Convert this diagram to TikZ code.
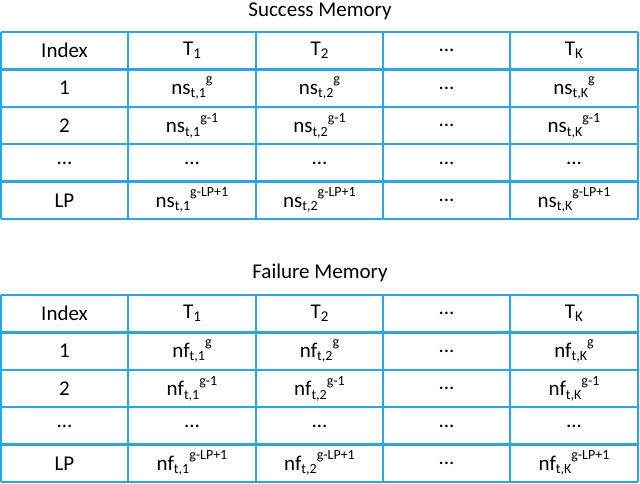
\documentclass[tikz,border=0pt]{standalone}
\usepackage{fontspec}
\setmainfont{Carlito}
\definecolor{gridblue}{HTML}{2AA7E0}
\newcommand{\mcell}[3]{#1\raisebox{-0.35ex}{\fontsize{14}{14}\selectfont #2}\raisebox{1.05ex}{\fontsize{14}{14}\selectfont #3}}
\newcommand{\tsub}[2]{#1\raisebox{-0.3ex}{\fontsize{15}{15}\selectfont #2}}
\begin{document}
\begin{tikzpicture}[x=1pt,y=-1pt,
  cell/.style={font=\fontsize{21}{21}\selectfont, inner sep=0pt, anchor=center},
  title/.style={font=\fontsize{21}{21}\selectfont, inner sep=0pt},
  grid/.style={draw=gridblue, line width=2.4pt}]
\useasboundingbox (0,0) rectangle (640,484);
% Titles
\node[title] (ts) at (320,11) {Success Memory};
\node[title] (tf) at (320,273) {Failure Memory};
% Grids
\foreach \top/\pre/\nm in {32/ns/s, 295/nf/f}{
  \foreach \k in {0,...,5}{
    \draw[grid] (1,{\top+37.4*\k}) -- (638,{\top+37.4*\k});
  }
  \foreach \xx in {1,128,256,383,510,638}{
    \draw[grid] (\xx,\top) -- (\xx,{\top+187});
  }
  \def\ya{\top+18.7}
  \def\yb{\top+56.1}
  \def\yc{\top+93.5}
  \def\yd{\top+130.9}
  \def\ye{\top+168.3}
  \node[cell] (\nm h0) at (64.5,{\ya}) {Index};
  \node[cell] (\nm h1) at (192,{\ya}) {\tsub{T}{1}};
  \node[cell] (\nm h2) at (319.5,{\ya}) {\tsub{T}{2}};
  \node[cell] (\nm h3) at (446.5,{\ya}) {...};
  \node[cell] (\nm h4) at (574,{\ya}) {\tsub{T}{K}};
  \node[cell] (\nm a0) at (64.5,{\yb}) {1};
  \node[cell] (\nm a1) at (192,{\yb}) {\mcell{\pre}{t,1}{g}};
  \node[cell] (\nm a2) at (319.5,{\yb}) {\mcell{\pre}{t,2}{g}};
  \node[cell] (\nm a3) at (446.5,{\yb}) {...};
  \node[cell] (\nm a4) at (574,{\yb}) {\mcell{\pre}{t,K}{g}};
  \node[cell] (\nm b0) at (64.5,{\yc}) {2};
  \node[cell] (\nm b1) at (192,{\yc}) {\mcell{\pre}{t,1}{g-1}};
  \node[cell] (\nm b2) at (319.5,{\yc}) {\mcell{\pre}{t,2}{g-1}};
  \node[cell] (\nm b3) at (446.5,{\yc}) {...};
  \node[cell] (\nm b4) at (574,{\yc}) {\mcell{\pre}{t,K}{g-1}};
  \node[cell] (\nm c0) at (64.5,{\yd}) {...};
  \node[cell] (\nm c1) at (192,{\yd}) {...};
  \node[cell] (\nm c2) at (319.5,{\yd}) {...};
  \node[cell] (\nm c3) at (446.5,{\yd}) {...};
  \node[cell] (\nm c4) at (574,{\yd}) {...};
  \node[cell] (\nm d0) at (64.5,{\ye}) {LP};
  \node[cell] (\nm d1) at (192,{\ye}) {\mcell{\pre}{t,1}{g-LP+1}};
  \node[cell] (\nm d2) at (319.5,{\ye}) {\mcell{\pre}{t,2}{g-LP+1}};
  \node[cell] (\nm d3) at (446.5,{\ye}) {...};
  \node[cell] (\nm d4) at (574,{\ye}) {\mcell{\pre}{t,K}{g-LP+1}};
}
\end{tikzpicture}
\end{document}
